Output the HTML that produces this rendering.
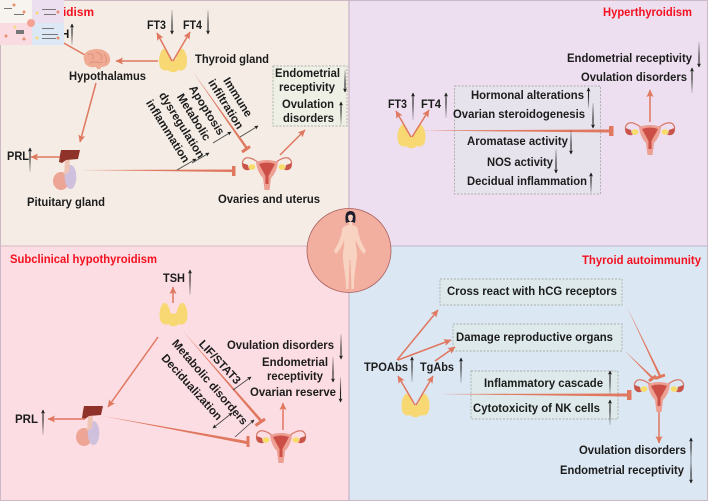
<!DOCTYPE html>
<html><head><meta charset="utf-8"><style>
html,body{margin:0;padding:0;background:#fff}
svg{display:block;filter:blur(.3px)}
text{font-family:"Liberation Sans",Arial,sans-serif;font-weight:700;font-size:11.500px;fill:#1c1c1c}
.t{fill:#f5101f}
.o{stroke:#e0775f;stroke-width:1.500;fill:none;marker-end:url(#oa)}
.u{stroke:url(#gu);stroke-width:1.100;fill:none;marker-end:url(#ka)}
.d{stroke:url(#gd);stroke-width:1.100;fill:none;marker-end:url(#ka)}
.k{stroke:#444;stroke-width:.8;fill:none;marker-end:url(#ka)}
.b{stroke:#e0775f;stroke-width:3;fill:none}
.i{fill:#e0775f}
.x{stroke:#9b9b9b;stroke-width:.7;stroke-dasharray:2 1.500}
</style></head><body>
<svg width="708" height="501" viewBox="0 0 708 501" xmlns="http://www.w3.org/2000/svg">
<defs>
<linearGradient id="gu" x1="0" y1="1" x2="0" y2="0"><stop offset="0" stop-color="#222" stop-opacity=".15"/><stop offset=".6" stop-color="#222"/></linearGradient>
<linearGradient id="gd" x1="0" y1="0" x2="0" y2="1"><stop offset="0" stop-color="#222" stop-opacity=".15"/><stop offset=".6" stop-color="#222"/></linearGradient>
<marker id="oa" markerUnits="userSpaceOnUse" markerWidth="9" markerHeight="8" refX="7" refY="3.500" orient="auto"><path d="M0 0L7.500 3.500L0 7L1.500 3.500Z" fill="#e0775f"/></marker>
<marker id="ka" markerUnits="userSpaceOnUse" markerWidth="5" markerHeight="5" refX="3.500" refY="2" orient="auto"><path d="M0 0L4 2L0 4L.8 2Z" fill="#222"/></marker>
<marker id="ks" markerUnits="userSpaceOnUse" markerWidth="5" markerHeight="5" refX=".5" refY="2" orient="auto"><path d="M4 0L0 2L4 4L3.200 2Z" fill="#222"/></marker>
<g id="thy"><path d="M-10-12C-6-13-4-7-3-2C-1-1 1-1 3-2C4-7 6-13 10-12C14-8 15 0 13 6C11 10 7 10 5 9C3 12-3 12-5 9C-7 10-11 10-13 6C-15 0-14-8-10-12Z" fill="#f8d873"/></g>
<g id="ut">
<path d="M-8 6C-13 2-22-3-24.500 5C-25 10-21 13-17 12M8 6C13 2 22-3 24.500 5C25 10 21 13 17 12" stroke="#d9796a" stroke-width="1.200" fill="none"/>
<path d="M-24.500 6C-26 11-22 14-18 13L-19 8ZM24.500 6C26 11 22 14 18 13L19 8Z" fill="#c9544a"/>
<ellipse cx="-15" cy="10" rx="3.400" ry="2.800" fill="#f7dc6a"/><ellipse cx="15" cy="10" rx="3.400" ry="2.800" fill="#f7dc6a"/>
<path d="M-11 5Q0 1 11 5Q10 15 4 21L2.500 33L-2.500 33L-4 21Q-10 15-11 5Z" fill="#ec9f92"/>
<path d="M-8 7Q0 4 8 7L1.500 19L1.500 27L-1.500 27L-1.500 19Z" fill="#cb4f47"/>
</g>
<g id="pit">
<ellipse cx="8" cy="31" rx="8" ry="9" fill="#eda596"/>
<ellipse cx="17.500" cy="27" rx="5.800" ry="12" fill="#cfc0de"/>
<path d="M12 10L17 10L16 22L11 25Z" fill="#f0c4b4"/>
<path d="M8 0L27 0L25 9L13 10L9 13L6 12L7 5Z" fill="#8f3229"/>
</g>
</defs>

<!-- panels -->
<rect x="0" y="0" width="349" height="246" fill="#f4ece5"/>
<rect x="349" y="0" width="359" height="246" fill="#eddfef"/>
<rect x="0" y="246" width="349" height="255" fill="#fcdde3"/>
<rect x="349" y="246" width="359" height="255" fill="#dbe7f3"/>
<path d="M.5 246V.5H349M349 .5H707.500V246M707.500 246V500.500H349M349 500.500H.5V246" fill="none" stroke="#cdb9c6" stroke-width="1"/>
<path d="M349 0V501" stroke="#bfa8c0" stroke-width="1"/>
<path d="M0 246H349" stroke="#d7b9c4" stroke-width="1"/><path d="M349 246H708" stroke="#bdb5d2" stroke-width="1"/>

<!-- panel 1 -->
<text class="t" x="63" y="16" textLength="31" lengthAdjust="spacingAndGlyphs">idism</text>
<text x="61" y="38">H</text>
<path class="u" d="M72 45L72.010 24"/>
<text x="147" y="29" textLength="19" lengthAdjust="spacingAndGlyphs">FT3</text>
<text x="183" y="29" textLength="19" lengthAdjust="spacingAndGlyphs">FT4</text>
<path class="d" d="M172 10L172.010 34"/>
<path class="d" d="M208 10L208.010 34"/>
<use href="#thy" x="173" y="61"/>
<path class="o" d="M172 61L157 33"/>
<path class="o" d="M173 61L190 32"/>
<text x="195" y="63" textLength="74" lengthAdjust="spacingAndGlyphs">Thyroid gland</text>
<path class="o" d="M158 61L116 61"/>
<path d="M85 55L62 42" stroke="#e0775f" stroke-width="1.500"/>
<!-- brain -->
<g>
<path d="M84 60C82 52 90 49 97 49C106 49 111 55 110 61C109 66 104 67 101 67C101 70 97 70 96 67C90 68 85 66 84 60Z" fill="#f0ab95"/>
<path d="M88 55C92 52 95 56 92 59M96 52C101 54 104 57 100 60M90 63C94 60 98 64 103 62M104 54C107 57 107 61 105 63" stroke="#d98b75" stroke-width=".8" fill="none"/>
</g>
<text x="69" y="80" textLength="77" lengthAdjust="spacingAndGlyphs">Hypothalamus</text>
<path class="o" d="M96 83L80 142"/>
<use href="#pit" x="53" y="150"/>
<path class="o" d="M60 157L31 157"/>
<text x="7" y="160" textLength="22" lengthAdjust="spacingAndGlyphs">PRL</text>
<path class="u" d="M30 172L30.010 148"/>
<text x="27" y="206" textLength="78" lengthAdjust="spacingAndGlyphs">Pituitary gland</text>
<polygon class="i" points="80,170 232,169.500 232,172"/><rect class="i" x="232" y="166" width="3.500" height="10"/>
<polygon class="i" points="193,72 247.800,147.500 245.800,149"/><path class="b" d="M242 152L250 146.500" stroke-width="2.500"/>
<use href="#ut" x="267" y="157"/>
<text x="218" y="203" textLength="102" lengthAdjust="spacingAndGlyphs">Ovaries and uterus</text>
<path class="o" d="M280 155L305 130"/>
<rect class="x" x="273" y="66" width="74" height="60" fill="#eef0e5"/>
<text x="275" y="77" textLength="65" lengthAdjust="spacingAndGlyphs">Endometrial</text>
<text x="279" y="91" textLength="56" lengthAdjust="spacingAndGlyphs">receptivity</text>
<text x="282" y="108" textLength="52" lengthAdjust="spacingAndGlyphs">Ovulation</text>
<text x="283" y="122" textLength="51" lengthAdjust="spacingAndGlyphs">disorders</text>
<path class="d" d="M345 70L345.010 92"/>
<path class="u" d="M341 125L341.010 102"/>
<g text-anchor="middle">
<text transform="translate(238 97) rotate(58)" y="4">Immune</text>
<text transform="translate(226 104) rotate(58)" y="4">infiltration</text>
<text transform="translate(207 110) rotate(58)" y="4">Apoptosis</text>
<text transform="translate(194 117) rotate(58)" y="4">Metabolic</text>
<text transform="translate(182 125) rotate(58)" y="4">dysregulation</text>
<text transform="translate(168 131) rotate(58)" y="4">inflammation</text>
</g>
<path class="k" d="M177 170L196 159"/>
<path class="k" d="M192 163L209 153"/>
<path class="k" d="M213 143L231 132"/>
<path class="k" d="M240 137L258 126"/>

<!-- panel 2 -->
<text class="t" x="603" y="16" textLength="89" lengthAdjust="spacingAndGlyphs">Hyperthyroidism</text>
<text x="567" y="62" textLength="125" lengthAdjust="spacingAndGlyphs">Endometrial receptivity</text>
<path class="d" d="M699 42L699.010 67"/>
<text x="581" y="81" textLength="106" lengthAdjust="spacingAndGlyphs">Ovulation disorders</text>
<path class="u" d="M692 93L692.010 68"/>
<path class="o" d="M650 122L650 90"/>
<use href="#ut" x="650" y="122"/>
<rect class="x" x="454.500" y="86" width="146" height="108" fill="#e6e3ec"/>
<text x="388" y="108" textLength="19" lengthAdjust="spacingAndGlyphs">FT3</text>
<text x="421" y="108" textLength="20" lengthAdjust="spacingAndGlyphs">FT4</text>
<path class="u" d="M413 120L413.010 93"/>
<path class="u" d="M446 118L446.010 93"/>
<use href="#thy" x="411.500" y="137"/>
<path class="o" d="M411 137L396 111"/>
<path class="o" d="M412 137L429 110"/>
<polygon class="i" points="420,130.500 609,129.500 609,132.500"/><rect class="i" x="609" y="126" width="4.500" height="10"/>
<text x="471" y="99" textLength="113" lengthAdjust="spacingAndGlyphs">Hormonal alterations</text>
<path class="u" d="M588.500 108L588.510 88"/>
<text x="453" y="118" textLength="132" lengthAdjust="spacingAndGlyphs">Ovarian steroidogenesis</text>
<path class="d" d="M593 103L593.010 128"/>
<text x="467" y="145" textLength="101" lengthAdjust="spacingAndGlyphs">Aromatase activity</text>
<path class="d" d="M571 130L571.010 154"/>
<text x="487" y="166" textLength="66" lengthAdjust="spacingAndGlyphs">NOS activity</text>
<path class="d" d="M556 149L556.010 173"/>
<text x="467" y="185" textLength="120" lengthAdjust="spacingAndGlyphs">Decidual inflammation</text>
<path class="u" d="M591 193L591.010 173"/>

<!-- panel 3 -->
<text class="t" x="10" y="263" textLength="147" lengthAdjust="spacingAndGlyphs">Subclinical hypothyroidism</text>
<text x="163" y="282" textLength="22" lengthAdjust="spacingAndGlyphs">TSH</text>
<path class="u" d="M190 295L190.010 270"/>
<path class="o" d="M173 303L173 287"/>
<use href="#thy" x="173.500" y="315"/>
<path class="o" d="M158 337L108 407" stroke-width="1.800"/>
<use href="#pit" x="76" y="406"/>
<path class="o" d="M85 419L48 419"/>
<text x="15" y="423" textLength="23" lengthAdjust="spacingAndGlyphs">PRL</text>
<path class="u" d="M43 435L43.010 410"/>
<polygon class="i" points="103,416 247,441 246.500,444"/><rect class="i" x="246.500" y="436" width="3" height="11"/>
<polygon class="i" points="182,330 263,421 261,423"/><path class="b" d="M255.500 425.500L265 419" stroke-width="2.500"/>
<use href="#ut" x="281" y="430"/>
<path class="o" d="M283 430L283 403"/>
<g text-anchor="middle">
<text transform="translate(220 362) rotate(47)" y="4">LIF/STAT3</text>
<text transform="translate(210 382) rotate(49)" y="4">Metabolic disorders</text>
<text transform="translate(192 387) rotate(48)" y="4">Decidualization</text>
</g>
<path class="k" d="M233 390L251 377"/>
<path class="k" d="M213 428L232 413" marker-start="url(#ks)"/>
<path class="k" d="M235 437L254 420"/>
<text x="227" y="349" textLength="107" lengthAdjust="spacingAndGlyphs">Ovulation disorders</text>
<path class="d" d="M341 334L341.010 359"/>
<text x="262" y="366" textLength="66" lengthAdjust="spacingAndGlyphs">Endometrial</text>
<text x="267" y="380" textLength="56" lengthAdjust="spacingAndGlyphs">receptivity</text>
<path class="d" d="M333 357L333.010 382"/>
<text x="250" y="396" textLength="86" lengthAdjust="spacingAndGlyphs">Ovarian reserve</text>
<path class="d" d="M340.500 377L340.510 402"/>

<!-- panel 4 -->
<text class="t" x="582" y="264" textLength="119" lengthAdjust="spacingAndGlyphs">Thyroid autoimmunity</text>
<rect class="x" x="440" y="279" width="182" height="26" fill="#dde9ea"/>
<text x="447" y="295" textLength="170" lengthAdjust="spacingAndGlyphs">Cross react with hCG receptors</text>
<rect class="x" x="453" y="324" width="169" height="27" fill="#dde9ea"/>
<text x="456" y="341" textLength="157" lengthAdjust="spacingAndGlyphs">Damage reproductive organs</text>
<rect class="x" x="471" y="371" width="147" height="48" fill="#dde9ea"/>
<text x="484" y="387" textLength="119" lengthAdjust="spacingAndGlyphs">Inflammatory cascade</text>
<path class="u" d="M610 395L610.010 371"/>
<text x="473" y="412" textLength="127" lengthAdjust="spacingAndGlyphs">Cytotoxicity of NK cells</text>
<path class="u" d="M610 425L610.010 400"/>
<text x="364" y="371" textLength="44" lengthAdjust="spacingAndGlyphs">TPOAbs</text>
<path class="u" d="M412 382L412.010 357"/>
<text x="420" y="371" textLength="34" lengthAdjust="spacingAndGlyphs">TgAbs</text>
<path class="u" d="M461 383L461.010 358"/>
<use href="#thy" x="415.500" y="406"/>
<path class="o" d="M415 405L398 376"/>
<path class="o" d="M416 405L433 376"/>
<path class="o" d="M397 360L438 310"/>
<path class="o" d="M398 360L451 340"/>
<path class="o" d="M435 361L455 347"/>
<polygon class="i" points="438,394 627,393.500 627,396.500"/><rect class="i" x="627" y="390" width="4.500" height="10"/>
<polygon class="i" points="627,307 661.500,376.500 659.500,377.500"/><path class="b" d="M655 378.500L665 375" stroke-width="2"/>
<polygon class="i" points="625,351 653,377 651.500,378.500"/><path class="b" d="M649 381L656 376" stroke-width="2"/>
<use href="#ut" x="659" y="379"/>
<path class="o" d="M659 412L659 443"/>
<text x="579" y="454" textLength="107" lengthAdjust="spacingAndGlyphs">Ovulation disorders</text>
<path class="u" d="M691 462L691.010 438"/>
<text x="560" y="474" textLength="124" lengthAdjust="spacingAndGlyphs">Endometrial receptivity</text>
<path class="d" d="M691 458L691.010 483"/>

<!-- central figure -->
<circle cx="349" cy="250.500" r="42" fill="#f2ae9f" stroke="#a9605e" stroke-width=".8"/>
<path d="M350.500 211C345 211 345 217 346 223L348.500 222L352.500 222L355 223C356 217 356 211 350.500 211Z" fill="#1e1e2c"/>
<path d="M348 216Q350.500 213 353 216L352.500 220L350.500 222L348.500 220Z" fill="#f7d0bd"/>
<path d="M349 222L352 222L352 225C356 226 358 227 358 231C359 238 362 244 366 251L364 254C360 250 357 244 356 240C355 244 357 250 357 256C356 266 354 274 354 289L351.500 289L350.500 260L349.500 260L348.500 289L346 289C346 274 343 266 343 256C343 250 345 244 344 240C343 244 340 250 336 254L334 251C338 244 341 238 342 231C342 227 344 226 349 225Z" fill="#f8d3c2"/>

<!-- thumbnail -->
<g>
<rect x="0" y="0" width="32" height="23" fill="#f7f3ef"/>
<rect x="32" y="0" width="32" height="23" fill="#ebdff0"/>
<rect x="0" y="23" width="32" height="22" fill="#fbdbe2"/>
<rect x="32" y="23" width="32" height="22" fill="#dce8f5"/>
<circle cx="31" cy="23" r="4" fill="#f3a394"/>
<g fill="#777"><rect x="4" y="8" width="8" height="1"/><rect x="14" y="14" width="10" height="1"/><rect x="42" y="9" width="14" height="1"/><rect x="44" y="14" width="12" height="1"/><rect x="42" y="34" width="16" height="1"/><rect x="42" y="38" width="14" height="1"/><rect x="16" y="30" width="8" height="4"/><rect x="42" y="28" width="12" height="1"/></g>
<g fill="#e89070"><circle cx="14" cy="5" r="1.500"/><circle cx="24" cy="12" r="1.500"/><circle cx="58" cy="12" r="1.500"/><circle cx="24" cy="39" r="1.500"/><circle cx="58" cy="38" r="1.500"/><circle cx="6" cy="36" r="1.500"/></g>
<g fill="#f5d97a"><circle cx="37" cy="13" r="1.500"/><circle cx="37" cy="38" r="1.500"/><circle cx="15" cy="27" r="1.500"/></g>
</g>
</svg>
</body></html>
